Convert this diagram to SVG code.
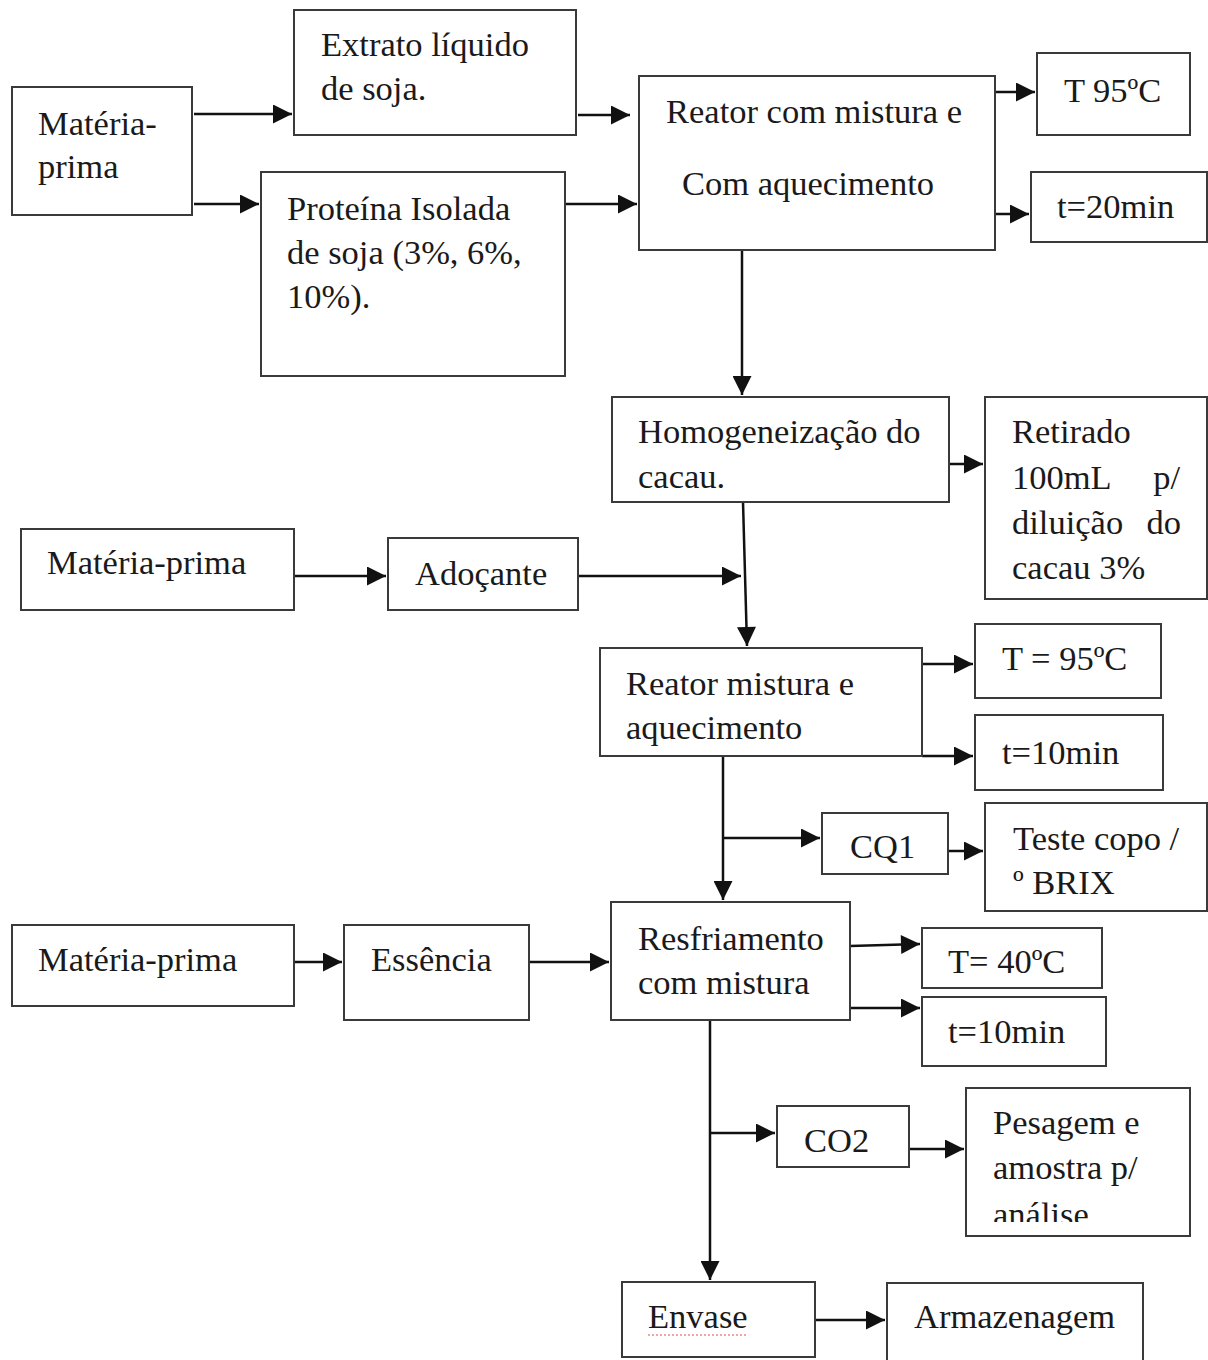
<svg xmlns="http://www.w3.org/2000/svg" width="1208" height="1360" viewBox="0 0 1208 1360">
<style>
.box{fill:#fff;stroke:#3a3a3a;stroke-width:2}
.t{font-family:"Liberation Serif","Times New Roman",serif;font-size:34.5px;fill:#1a1a1a}
.c{fill:none;stroke:#111;stroke-width:2.5}
</style>
<defs>
<marker id="ah" viewBox="0 0 10 10" refX="10" refY="5" markerWidth="21" markerHeight="19" markerUnits="userSpaceOnUse" orient="auto">
<path d="M0,0 L10,5 L0,10 z" fill="#111"/>
</marker>
<clipPath id="clipP"><rect x="966" y="1088" width="224" height="134"/></clipPath>
</defs>
<rect width="1208" height="1360" fill="#fff"/>
<g id="connectors">
<path class="c" d="M194,114 H292" marker-end="url(#ah)"/>
<path class="c" d="M194,204 H259" marker-end="url(#ah)"/>
<path class="c" d="M578,115 H630" marker-end="url(#ah)"/>
<path class="c" d="M565,204 H637" marker-end="url(#ah)"/>
<path class="c" d="M985,92 H1035" marker-end="url(#ah)"/>
<path class="c" d="M985,214 H1029" marker-end="url(#ah)"/>
<path class="c" d="M742,250 V395" marker-end="url(#ah)"/>
<path class="c" d="M949,464 H983" marker-end="url(#ah)"/>
<path class="c" d="M743,502 L747,646" marker-end="url(#ah)"/>
<path class="c" d="M294,576 H386" marker-end="url(#ah)"/>
<path class="c" d="M578,576 H741" marker-end="url(#ah)"/>
<path class="c" d="M922,664 H973" marker-end="url(#ah)"/>
<path class="c" d="M922,756 H973" marker-end="url(#ah)"/>
<path class="c" d="M723,756 V900" marker-end="url(#ah)"/>
<path class="c" d="M723,838 H820" marker-end="url(#ah)"/>
<path class="c" d="M948,851 H983" marker-end="url(#ah)"/>
<path class="c" d="M294,962 H342" marker-end="url(#ah)"/>
<path class="c" d="M529,962 H609" marker-end="url(#ah)"/>
<path class="c" d="M850,946 L920,944" marker-end="url(#ah)"/>
<path class="c" d="M850,1008 H920" marker-end="url(#ah)"/>
<path class="c" d="M710,1005 V1280" marker-end="url(#ah)"/>
<path class="c" d="M710,1133 H775" marker-end="url(#ah)"/>
<path class="c" d="M909,1149 H964" marker-end="url(#ah)"/>
<path class="c" d="M815,1320 H885" marker-end="url(#ah)"/>
</g>
<g id="mp1"><rect class="box" x="12" y="87" width="180" height="128"/><text class="t" x="38" y="135">Matéria-</text><text class="t" x="38" y="178">prima</text></g>
<g id="extrato"><rect class="box" x="294" y="10" width="282" height="125"/><text class="t" x="321" y="56">Extrato líquido</text><text class="t" x="321" y="100">de soja.</text></g>
<g id="proteina"><rect class="box" x="261" y="172" width="304" height="204"/><text class="t" x="287" y="220">Proteína Isolada</text><text class="t" x="287" y="264">de soja (3%, 6%,</text><text class="t" x="287" y="308">10%).</text></g>
<g id="reator1"><rect class="box" x="639" y="76" width="356" height="174"/><text class="t" x="666" y="123">Reator com mistura e</text><text class="t" x="682" y="195">Com aquecimento</text></g>
<g id="t95"><rect class="box" x="1037" y="53" width="153" height="82"/><text class="t" x="1064" y="102">T 95ºC</text></g>
<g id="t20"><rect class="box" x="1031" y="172" width="176" height="70"/><text class="t" x="1057" y="218">t=20min</text></g>
<g id="homog"><rect class="box" x="612" y="397" width="337" height="105"/><text class="t" x="638" y="443">Homogeneização do</text><text class="t" x="638" y="488">cacau.</text></g>
<g id="retirado"><rect class="box" x="985" y="397" width="222" height="202"/><text class="t" x="1012" y="443">Retirado</text><text class="t" x="1012" y="489">100mL</text><text class="t" x="1180" y="489" text-anchor="end">p/</text><text class="t" x="1012" y="534">diluição</text><text class="t" x="1181" y="534" text-anchor="end">do</text><text class="t" x="1012" y="579">cacau 3%</text></g>
<g id="mp2"><rect class="box" x="21" y="529" width="273" height="81"/><text class="t" x="47" y="574">Matéria-prima</text></g>
<g id="adocante"><rect class="box" x="388" y="538" width="190" height="72"/><text class="t" x="415" y="585">Adoçante</text></g>
<g id="reator2"><rect class="box" x="600" y="648" width="322" height="108"/><text class="t" x="626" y="695">Reator mistura e</text><text class="t" x="626" y="739">aquecimento</text></g>
<g id="T95b"><rect class="box" x="975" y="624" width="186" height="74"/><text class="t" x="1002" y="670">T = 95ºC</text></g>
<g id="t10a"><rect class="box" x="975" y="715" width="188" height="75"/><text class="t" x="1002" y="764">t=10min</text></g>
<g id="cq1"><rect class="box" x="822" y="813" width="126" height="61"/><text class="t" x="850" y="858">CQ1</text></g>
<g id="teste"><rect class="box" x="985" y="803" width="222" height="108"/><text class="t" x="1013" y="850">Teste copo /</text><text class="t" x="1013" y="894">º BRIX</text></g>
<g id="mp3"><rect class="box" x="12" y="925" width="282" height="81"/><text class="t" x="38" y="971">Matéria-prima</text></g>
<g id="essencia"><rect class="box" x="344" y="925" width="185" height="95"/><text class="t" x="371" y="971">Essência</text></g>
<g id="resfriamento"><rect class="box" x="611" y="902" width="239" height="118"/><text class="t" x="638" y="950">Resfriamento</text><text class="t" x="638" y="994">com mistura</text></g>
<g id="T40"><rect class="box" x="922" y="928" width="180" height="60"/><text class="t" x="948" y="973">T= 40ºC</text></g>
<g id="t10b"><rect class="box" x="922" y="997" width="184" height="69"/><text class="t" x="948" y="1043">t=10min</text></g>
<g id="co2"><rect class="box" x="777" y="1106" width="132" height="61"/><text class="t" x="804" y="1152">CO2</text></g>
<g id="pesagem"><rect class="box" x="966" y="1088" width="224" height="148"/><text class="t" x="993" y="1134">Pesagem e</text><text class="t" x="993" y="1179">amostra p/</text><text class="t" x="993" y="1226" clip-path="url(#clipP)">análise</text></g>
<g id="envase"><rect class="box" x="622" y="1282" width="193" height="75"/><text class="t" x="648" y="1328">Envase</text><line x1="648" y1="1335" x2="748" y2="1335" stroke="#e05050" stroke-width="1.2" stroke-dasharray="2,2"/></g>
<g id="armazenagem"><rect class="box" x="887" y="1283" width="256" height="80"/><text class="t" x="914" y="1328">Armazenagem</text></g>
</svg>
